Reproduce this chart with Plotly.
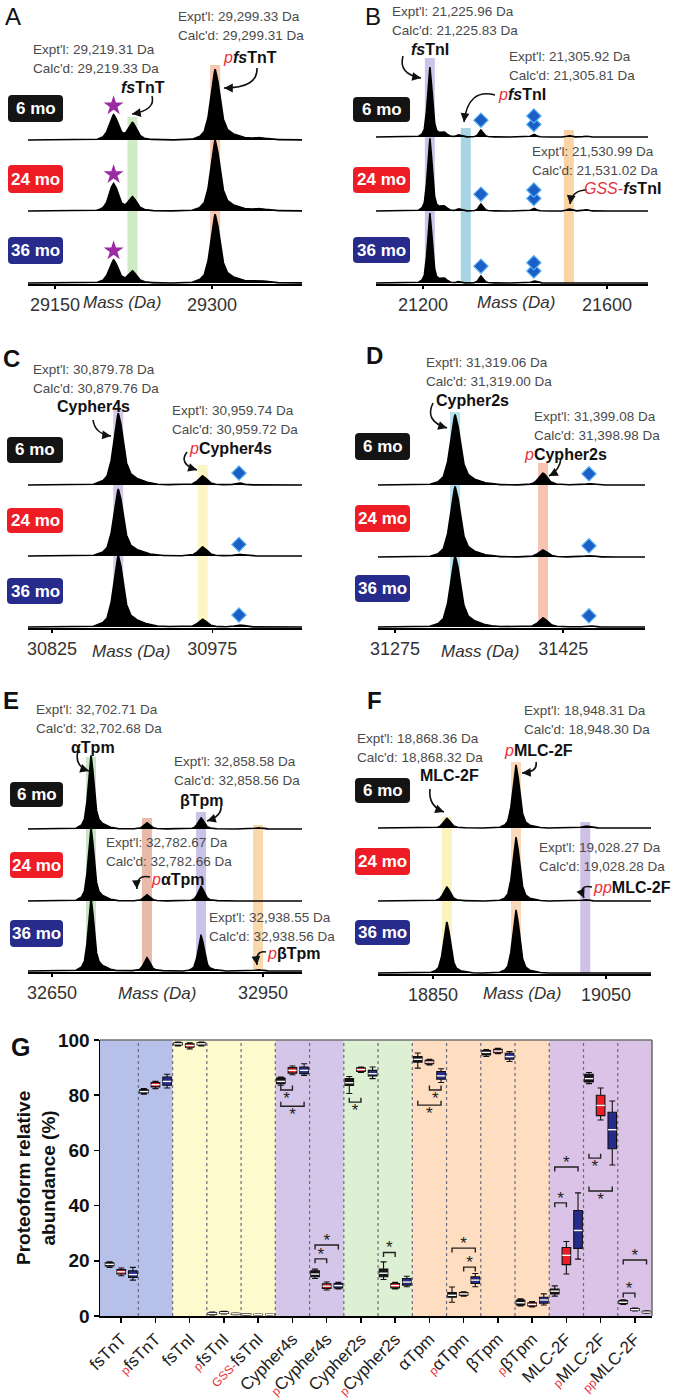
import numpy as np
import plotly.graph_objects as go

W, H = 676, 1400
FONT = "Arial, Liberation Sans, sans-serif"
RED = "#E8303A"
GRAY_TXT = "#4A4A4A"

AGES = ["6 mo", "24 mo", "36 mo"]
AGE_COLORS = ["#141414", "#EE1D25", "#262B8C"]

# ---------------- spectra data (peak mass, width, intensity per age) ----------------
# Panel A  fsTnT
A_PEAK_MASS = [29206, 29224, 29303, 29312, 29345]
A_PEAK_WIDTH = [6.0, 5.5, 6.0, 16.0, 10.0]
A_INT_6MO = [36, 24, 97, 6, 3]
A_INT_24MO = [39, 19, 97, 6, 3]
A_INT_36MO = [33, 16, 94, 6, 3]
A_TICKS = [29150, 29300]
A_PROTEO = ["fsTnT", "pfsTnT"]
A_PROTEO_MASS = [29224, 29303]
A_EXPT = ["29,219.31", "29,299.33"]
A_CALC = ["29,219.33", "29,299.31"]
A_STAR_MASS = [29206]

# Panel B  fsTnI
B_PEAK_MASS = [21215, 21245, 21278, 21326, 21441, 21517, 21554]
B_PEAK_WIDTH = [7.0, 10.0, 6.0, 6.5, 6.5, 6.0, 6.0]
B_INT_6MO = [100, 6, 3, 10, 4, 2, 1.5]
B_INT_24MO = [104, 6, 3, 10, 4, 3, 2]
B_INT_36MO = [100, 6, 2, 10, 3, 1, 1]
B_TICKS = [21200, 21600]
B_PROTEO = ["fsTnI", "pfsTnI", "GSS-fsTnI"]
B_PROTEO_MASS = [21215, 21293, 21517]
B_EXPT = ["21,225.96", "21,305.92", "21,530.99"]
B_CALC = ["21,225.83", "21,305.81", "21,531.02"]
B_DIAMOND_MASS = [21326, 21441]
B_DIAMOND_COUNT = [1, 2]

# Panel C  Cypher4s
C_PEAK_MASS = [30887, 30895, 30966, 31000]
C_PEAK_WIDTH = [6.0, 18.0, 5.5, 5.0]
C_INT_6MO = [97, 7, 13, 3]
C_INT_24MO = [90, 7, 13, 2.5]
C_INT_36MO = [96, 8, 11, 3]
C_TICKS = [30825, 30975]
C_PROTEO = ["Cypher4s", "pCypher4s"]
C_PROTEO_MASS = [30887, 30966]
C_EXPT = ["30,879.78", "30,959.74"]
C_CALC = ["30,879.76", "30,959.72"]
C_DIAMOND_MASS = [31000]
C_DIAMOND_COUNT = [1]

# Panel D  Cypher2s
D_PEAK_MASS = [31328.6, 31336, 31407, 31448]
D_PEAK_WIDTH = [6.0, 16.0, 5.5, 5.0]
D_INT_6MO = [96, 6, 17, 2]
D_INT_24MO = [96, 6, 10, 2]
D_INT_36MO = [96, 7, 13, 2]
D_TICKS = [31275, 31425]
D_PROTEO = ["Cypher2s", "pCypher2s"]
D_PROTEO_MASS = [31328.6, 31407]
D_EXPT = ["31,319.06", "31,399.08"]
D_CALC = ["31,319.00", "31,398.98"]
D_DIAMOND_MASS = [31448]
D_DIAMOND_COUNT = [1]

# Panel E  Tpm
E_PEAK_MASS = [32705.5, 32712, 32785, 32862, 32943]
E_PEAK_WIDTH = [5.5, 18.0, 6.0, 6.0, 6.0]
E_INT_6MO = [101, 5, 9, 16, 2]
E_INT_24MO = [101, 5, 9, 21, 1]
E_INT_36MO = [100, 5, 19, 51, 2]
E_TICKS = [32650, 32950]
E_PROTEO = ["aTpm", "paTpm", "bTpm", "pbTpm"]
E_PROTEO_MASS = [32705.5, 32785, 32862, 32943]
E_EXPT = ["32,702.71", "32,782.67", "32,858.58", "32,938.55"]
E_CALC = ["32,702.68", "32,782.66", "32,858.56", "32,938.56"]

# Panel F  MLC-2F
F_PEAK_MASS = [18866, 18946, 19026]
F_PEAK_WIDTH = [5.5, 5.5, 5.0]
F_INT_6MO = [14, 90, 3]
F_INT_24MO = [20, 91, 2]
F_INT_36MO = [73, 90, 1]
F_TICKS = [18850, 19050]
F_PROTEO = ["MLC-2F", "pMLC-2F", "ppMLC-2F"]
F_PROTEO_MASS = [18866, 18946, 19026]
F_EXPT = ["18,868.36", "18,948.31", "19,028.27"]
F_CALC = ["18,868.32", "18,948.30", "19,028.28"]

# ---------------- panel G data ----------------
CAT_BASE = ["fsTnT", "fsTnT", "fsTnI", "fsTnI", "fsTnI", "Cypher4s", "Cypher4s", "Cypher2s",
            "Cypher2s", "αTpm", "αTpm", "βTpm", "βTpm", "MLC-2F", "MLC-2F", "MLC-2F"]
CAT_PREFIX = ["", "p", "", "p", "GSS-", "", "p", "", "p", "", "p", "", "p", "", "p", "pp"]

MED_6MO = [18.7, 81.3, 98.6, 0.9, 0.6, 85.0, 15.2, 84.5, 15.5, 93.0, 7.5, 95.5, 4.8, 9.0, 86.0, 5.0]
Q1_6MO = [18.1, 80.8, 98.2, 0.6, 0.4, 84.2, 14.2, 83.5, 14.2, 92.0, 6.8, 94.6, 4.0, 8.0, 84.8, 4.5]
Q3_6MO = [19.3, 82.0, 99.0, 1.2, 0.8, 86.2, 16.4, 86.0, 17.0, 94.0, 8.5, 96.2, 5.8, 9.8, 87.6, 5.6]
LO_6MO = [17.6, 80.4, 97.8, 0.4, 0.3, 83.6, 13.6, 80.6, 13.2, 89.8, 5.0, 94.0, 3.6, 7.2, 84.2, 4.2]
HI_6MO = [19.6, 82.4, 99.3, 1.4, 0.9, 86.6, 17.0, 86.8, 19.6, 95.3, 10.5, 96.5, 6.2, 10.9, 88.2, 5.9]

MED_24MO = [16.0, 83.8, 98.0, 1.2, 0.5, 89.0, 10.8, 89.3, 11.0, 92.0, 8.0, 96.0, 4.2, 22.0, 76.3, 2.3]
Q1_24MO = [15.2, 83.0, 97.4, 0.9, 0.35, 88.0, 10.0, 88.6, 10.2, 91.4, 7.5, 95.4, 3.6, 18.6, 72.6, 2.0]
Q3_24MO = [16.8, 84.6, 98.6, 1.5, 0.65, 90.0, 11.7, 89.9, 11.8, 92.6, 8.5, 96.6, 4.8, 24.8, 80.0, 2.7]
LO_24MO = [14.6, 82.4, 96.8, 0.7, 0.3, 87.4, 9.4, 88.2, 9.8, 91.0, 7.2, 95.0, 3.3, 15.2, 71.0, 1.8]
HI_24MO = [17.4, 85.0, 99.0, 1.7, 0.7, 90.6, 12.3, 90.2, 12.2, 93.0, 8.8, 97.0, 5.2, 27.0, 82.6, 2.9]

MED_36MO = [15.0, 85.0, 98.6, 0.8, 0.6, 89.0, 11.0, 87.8, 12.3, 87.0, 13.0, 94.0, 5.8, 31.0, 67.5, 1.4]
Q1_36MO = [14.0, 83.6, 98.2, 0.6, 0.45, 87.8, 10.2, 87.0, 11.2, 85.8, 11.8, 93.0, 4.6, 24.5, 60.6, 1.2]
Q3_36MO = [16.4, 86.6, 99.0, 1.0, 0.75, 90.2, 11.8, 89.0, 13.6, 88.6, 14.2, 95.2, 6.8, 38.2, 73.8, 1.7]
LO_36MO = [13.0, 82.6, 97.8, 0.5, 0.4, 87.2, 9.8, 86.0, 10.6, 84.6, 10.6, 92.2, 4.0, 20.6, 54.7, 1.0]
HI_36MO = [17.6, 87.6, 99.3, 1.1, 0.8, 91.4, 12.2, 90.2, 14.4, 89.6, 15.4, 95.8, 8.0, 44.6, 77.9, 1.9]

# significance brackets: category, age a, age b, y level, direction (+1 star above, -1 star below)
SIG_CAT = [5, 5, 6, 6, 7, 8, 9, 9, 10, 10, 13, 13, 14, 14, 15, 15]
SIG_A = [0, 0, 0, 0, 0, 0, 1, 0, 1, 0, 0, 0, 0, 0, 0, 0]
SIG_B = [1, 2, 1, 2, 1, 1, 2, 2, 2, 2, 1, 2, 1, 2, 1, 2]
SIG_Y = [81.9, 76.0, 20.7, 25.7, 77.5, 23.0, 81.9, 76.4, 17.7, 24.6, 41.0, 54.0, 57.2, 45.3, 8.3, 20.3]
SIG_DIR = [-1, -1, 1, 1, -1, 1, -1, -1, 1, 1, 1, 1, -1, -1, 1, 1]

# ---------------- styles ----------------
PEAK_DX = [-4.0, -2.6, -1.8, -1.2, -0.7, -0.35, 0.0, 0.35, 0.7, 1.2, 1.8, 2.6, 4.0, 6.0]
PEAK_Y = [0.0, 0.03, 0.09, 0.26, 0.6, 0.88, 1.0, 0.88, 0.62, 0.28, 0.11, 0.05, 0.02, 0.0]
K = 0.7          # px per intensity unit
DOM_H = 80.0     # px height of each spectrum domain
R0 = 1.5


def px(x):
    return x / W


def py(y):
    return 1 - y / H


def red(s, italic=True, size=None):
    st = f"color:{RED}" + (f";font-size:{size}px" if size else "")
    inner = f"<span style='{st}'>{s}</span>"
    return f"<i>{inner}</i>" if italic else inner


LBL = {
    "fsTnT": "<b><i>fs</i>TnT</b>",
    "pfsTnT": red("p") + "<b><i>fs</i>TnT</b>",
    "fsTnI": "<b><i>fs</i>TnI</b>",
    "pfsTnI": red("p") + "<b><i>fs</i>TnI</b>",
    "GSS-fsTnI": red("GSS-") + "<b><i>fs</i>TnI</b>",
    "Cypher4s": "<b>Cypher4s</b>",
    "pCypher4s": red("p") + "<b>Cypher4s</b>",
    "Cypher2s": "<b>Cypher2s</b>",
    "pCypher2s": red("p") + "<b>Cypher2s</b>",
    "aTpm": "<b>αTpm</b>",
    "paTpm": red("p") + "<b>αTpm</b>",
    "bTpm": "<b>βTpm</b>",
    "pbTpm": red("p") + "<b>βTpm</b>",
    "MLC-2F": "<b>MLC-2F</b>",
    "pMLC-2F": red("p") + "<b>MLC-2F</b>",
    "ppMLC-2F": red("pp") + "<b>MLC-2F</b>",
}

PANELS = [
    dict(letter="A", lbold=False, lpos=(13, 16), mass=A_PEAK_MASS, width=A_PEAK_WIDTH,
         ints=[A_INT_6MO, A_INT_24MO, A_INT_36MO], ticks=A_TICKS, xpx=(28, 302),
         xrange=(29124.2, 29386.0), base=(140, 211, 283),
         proteo=A_PROTEO, pmass=A_PROTEO_MASS, band_top=[117, 65], band_col=["#CFEBC3", "#F8C7B0"],
         expt=A_EXPT, calc=A_CALC, epos=[(32, 50), (177, 17)], npos=[(143, 88), (250, 58)],
         nanchor=["center", "center"],
         arrows=[((152, 96), (156, 110), (132, 114)), ((257, 68), (258, 88), (224, 88))],
         boxes=[(8, 95, 63, 122), (8, 165, 63, 193), (8, 237, 63, 264)], mass_lbl=(122, 302),
         stars=A_STAR_MASS, diamonds=[], dcount=[]),
    dict(letter="B", lbold=False, lpos=(373, 16), mass=B_PEAK_MASS, width=B_PEAK_WIDTH,
         ints=[B_INT_6MO, B_INT_24MO, B_INT_36MO], ticks=B_TICKS, xpx=(376, 648),
         xrange=(21098.0, 21689.0), base=(137, 211, 283),
         proteo=B_PROTEO, pmass=B_PROTEO_MASS, band_top=[58, 128, 130],
         band_col=["#C8C6E8", "#A8D5E6", "#FBD4A6"],
         expt=B_EXPT, calc=B_CALC, epos=[(391, 12), (508, 57), (531, 151)],
         npos=[(430, 50), (522, 94), (662, 188)], nanchor=["center", "center", "right"],
         arrows=[((403, 56), (398, 74), (421, 78)), ((495, 95), (468, 88), (464, 122)),
                 ((587, 190), (572, 190), (570, 204))],
         boxes=[(353, 97, 410, 122), (353, 167, 410, 193), (353, 237, 410, 263)], mass_lbl=(516, 302),
         stars=[], diamonds=B_DIAMOND_MASS, dcount=B_DIAMOND_COUNT),
    dict(letter="C", lbold=True, lpos=(11, 358), mass=C_PEAK_MASS, width=C_PEAK_WIDTH,
         ints=[C_INT_6MO, C_INT_24MO, C_INT_36MO], ticks=C_TICKS, xpx=(28, 302),
         xrange=(30802.5, 31059.0), base=(485, 556, 627),
         proteo=C_PROTEO, pmass=C_PROTEO_MASS, band_top=[410, 465], band_col=["#D5C9E9", "#FBF6C4"],
         expt=C_EXPT, calc=C_CALC, epos=[(32, 370), (171, 410)], npos=[(94, 406), (230, 448)],
         nanchor=["center", "center"],
         arrows=[((93, 420), (95, 434), (111, 436)), ((187, 452), (178, 464), (197, 470))],
         boxes=[(7, 437, 63, 463), (7, 508, 63, 533), (7, 578, 63, 604)], mass_lbl=(131, 651),
         stars=[], diamonds=C_DIAMOND_MASS, dcount=C_DIAMOND_COUNT),
    dict(letter="D", lbold=True, lpos=(374, 355), mass=D_PEAK_MASS, width=D_PEAK_WIDTH,
         ints=[D_INT_6MO, D_INT_24MO, D_INT_36MO], ticks=D_TICKS, xpx=(378, 645),
         xrange=(31259.8, 31498.0), base=(485, 557, 627),
         proteo=D_PROTEO, pmass=D_PROTEO_MASS, band_top=[412, 463], band_col=["#B4E1F0", "#F7C4B1"],
         expt=D_EXPT, calc=D_CALC, epos=[(425, 362), (533, 417)], npos=[(472, 400), (565, 455)],
         nanchor=["center", "center"],
         arrows=[((433, 403), (424, 421), (447, 428)), ((561, 458), (560, 470), (549, 476))],
         boxes=[(355, 433, 410, 460), (355, 505, 410, 532), (355, 575, 410, 602)], mass_lbl=(480, 651),
         stars=[], diamonds=D_DIAMOND_MASS, dcount=D_DIAMOND_COUNT),
    dict(letter="E", lbold=True, lpos=(11, 700), mass=E_PEAK_MASS, width=E_PEAK_WIDTH,
         ints=[E_INT_6MO, E_INT_24MO, E_INT_36MO], ticks=E_TICKS, xpx=(28, 302),
         xrange=(32615.9, 33005.5), base=(829, 901, 971),
         proteo=E_PROTEO, pmass=E_PROTEO_MASS, band_top=[757, 818, 812, 825],
         band_col=["#C6E6C4", "#E9B9A9", "#C9C3E7", "#FAD8AE"],
         expt=E_EXPT, calc=E_CALC, epos=[(35, 709), (105, 842), (173, 761), (208, 917)],
         npos=[(93, 747), (178, 879), (202, 800), (293, 953)],
         nanchor=["center", "center", "center", "center"],
         arrows=[((78, 751), (74, 766), (89, 771)), ((150, 877), (136, 874), (137, 889)),
                 ((221, 806), (222, 816), (207, 821)), ((266, 952), (255, 950), (257, 965))],
         boxes=[(10, 782, 63, 807), (10, 852, 63, 878), (10, 920, 63, 947)], mass_lbl=(157, 993),
         stars=[], diamonds=[], dcount=[]),
    dict(letter="F", lbold=True, lpos=(374, 700), mass=F_PEAK_MASS, width=F_PEAK_WIDTH,
         ints=[F_INT_6MO, F_INT_24MO, F_INT_36MO], ticks=F_TICKS, xpx=(378, 651),
         xrange=(18786.4, 19102.0), base=(828, 901, 973),
         proteo=F_PROTEO, pmass=F_PROTEO_MASS, band_top=[817, 762, 822],
         band_col=["#FBF3BE", "#F9D8BB", "#CFC0E6"],
         expt=F_EXPT, calc=F_CALC, epos=[(356, 738), (523, 710), (538, 847)],
         npos=[(449, 775), (538, 750), (672, 887)], nanchor=["center", "center", "right"],
         arrows=[((430, 789), (428, 806), (444, 812)), ((536, 762), (538, 772), (522, 773)),
                 ((592, 887), (578, 884), (584, 898))],
         boxes=[(355, 778, 410, 803), (355, 848, 410, 875), (355, 920, 410, 945)], mass_lbl=(522, 993),
         stars=[], diamonds=[], dcount=[]),
]

fig = go.Figure()
layout = {}
shapes = []
annotations = []


def txt(s, x, y, size=13.5, color=GRAY_TXT, xanchor="left", **kw):
    annotations.append(dict(text=s, x=px(x), y=py(y), xref="paper", yref="paper", showarrow=False,
                            xanchor=xanchor, yanchor="middle", borderpad=0,
                            font=dict(size=size, color=color, family=FONT), **kw))


def rrect(x0, y0, x1, y1, r=4):
    return (f"M {px(x0 + r)},{py(y0)} L {px(x1 - r)},{py(y0)} Q {px(x1)},{py(y0)} {px(x1)},{py(y0 + r)} "
            f"L {px(x1)},{py(y1 - r)} Q {px(x1)},{py(y1)} {px(x1 - r)},{py(y1)} "
            f"L {px(x0 + r)},{py(y1)} Q {px(x0)},{py(y1)} {px(x0)},{py(y1 - r)} "
            f"L {px(x0)},{py(y0 + r)} Q {px(x0)},{py(y0)} {px(x0 + r)},{py(y0)} Z")


def profile(x, mass, width, ints):
    y = np.zeros_like(x)
    for m, w, h in zip(mass, width, ints):
        y += h * np.interp((x - m) / w, PEAK_DX, PEAK_Y, left=0.0, right=0.0)
    return y


for p, P in enumerate(PANELS):
    xname = "x" if p == 0 else f"x{p + 1}"
    xkey = "xaxis" if p == 0 else f"xaxis{p + 1}"
    x0, x1 = P["xpx"]
    xr = P["xrange"]
    da_per_px = (xr[1] - xr[0]) / (x1 - x0)
    xs = np.linspace(xr[0], xr[1], 3000)
    for a in range(3):
        n = 3 * p + a + 1
        yname = "y" if n == 1 else f"y{n}"
        ykey = "yaxis" if n == 1 else f"yaxis{n}"
        b = P["base"][a]
        layout[ykey] = dict(domain=[py(b + R0 * K), py(b + R0 * K - DOM_H)], anchor=xname,
                            range=[-R0, -R0 + DOM_H / K], visible=False, fixedrange=True)
        ys = profile(xs, P["mass"], P["width"], P["ints"][a])
        fig.add_trace(go.Scatter(x=xs, y=ys, mode="lines", fill="tozeroy", fillcolor="#000000",
                                 line=dict(color="#000000", width=1.6), xaxis=xname, yaxis=yname,
                                 hoverinfo="skip"))
        ints = P["ints"][a]
        if P["stars"]:
            sy = [ints[P["mass"].index(m)] + 13 for m in P["stars"]]
            fig.add_trace(go.Scatter(x=P["stars"], y=sy, mode="markers", xaxis=xname, yaxis=yname,
                                     marker=dict(symbol="star", size=15, color="#9B2BA3"),
                                     cliponaxis=False, hoverinfo="skip"))
        dx, dy = [], []
        for m, c in zip(P["diamonds"], P["dcount"]):
            hgt = ints[P["mass"].index(m)]
            for j in range(c):
                dx.append(m)
                dy.append(hgt + 14 + 12 * j)
        if dx:
            fig.add_trace(go.Scatter(x=dx, y=dy, mode="markers", xaxis=xname, yaxis=yname,
                                     marker=dict(symbol="diamond", size=11, color="#1B5FC6",
                                                 line=dict(color="#58B0F2", width=1.2)),
                                     cliponaxis=False, hoverinfo="skip"))
    bottom_y = "y" if 3 * p + 3 == 1 else f"y{3 * p + 3}"
    layout[xkey] = dict(domain=[px(x0), px(x1)], anchor=bottom_y, range=list(xr),
                        showline=True, linecolor="#000000", linewidth=2, ticks="outside", ticklen=3,
                        tickwidth=1.5, tickcolor="#000000", tickvals=P["ticks"],
                        ticktext=[str(t) for t in P["ticks"]],
                        tickfont=dict(size=18, color="#333333", family=FONT), showgrid=False,
                        zeroline=False, fixedrange=True, automargin=False)
    # bands
    hw = 5 * da_per_px
    for m, top, col in zip(P["pmass"], P["band_top"], P["band_col"]):
        shapes.append(dict(type="rect", xref=xname, yref="paper", x0=m - hw, x1=m + hw,
                           y0=py(P["base"][2]), y1=py(top), fillcolor=col, line=dict(width=0),
                           layer="below"))
    # age labels
    for a in range(3):
        bx0, by0, bx1, by1 = P["boxes"][a]
        shapes.append(dict(type="path", xref="paper", yref="paper", path=rrect(bx0, by0, bx1, by1, 4),
                           fillcolor=AGE_COLORS[a], line=dict(width=0)))
        txt(f"<b>{AGES[a]}</b>", (bx0 + bx1) / 2, (by0 + by1) / 2, size=17, color="#FFFFFF",
            xanchor="center")
    # panel letter
    lt = f"<b>{P['letter']}</b>" if P["lbold"] else P["letter"]
    txt(lt, P["lpos"][0], P["lpos"][1], size=24, color="#111111", xanchor="center")
    # mass labels
    for (ex, ey), e, c in zip(P["epos"], P["expt"], P["calc"]):
        txt(f"Expt'l: {e} Da", ex, ey)
        txt(f"Calc'd: {c} Da", ex, ey + 19)
    for (nx, ny), name, anc in zip(P["npos"], P["proteo"], P["nanchor"]):
        txt(LBL[name], nx, ny, size=16, color="#111111", xanchor=anc)
    for (s, c, e) in P["arrows"]:
        shapes.append(dict(type="path", xref="paper", yref="paper",
                           path=f"M {px(s[0])},{py(s[1])} Q {px(c[0])},{py(c[1])} {px(e[0])},{py(e[1])}",
                           line=dict(color="#111111", width=1.6)))
        vx, vy = c[0] - e[0], c[1] - e[1]
        L = (vx ** 2 + vy ** 2) ** 0.5
        annotations.append(dict(text="", x=px(e[0]), y=py(e[1]), xref="paper", yref="paper",
                                showarrow=True, arrowhead=2, arrowsize=1.1, arrowwidth=1.6,
                                arrowcolor="#111111", ax=vx / L * 7, ay=vy / L * 7, standoff=0))
    txt("<i>Mass (Da)</i>", P["mass_lbl"][0], P["mass_lbl"][1], size=17, color="#333333",
        xanchor="center")

# ---------------- panel G ----------------
GX0, GX1, GY0, GY1 = 100, 652, 1040, 1316
XMIN = -0.62
layout["xaxis7"] = dict(domain=[px(GX0), px(GX1)], anchor="y19", range=[XMIN, 15.5],
                        tickvals=list(range(16)),
                        ticktext=[(red(pf, italic=False, size=12) if pf else "") + b
                                  for pf, b in zip(CAT_PREFIX, CAT_BASE)],
                        tickangle=-45, ticks="outside", ticklen=5, tickwidth=1.5, tickcolor="#000000",
                        showline=True, linecolor="#000000", linewidth=1.5,
                        tickfont=dict(size=17, color="#222222", family=FONT), showgrid=False,
                        zeroline=False, fixedrange=True, automargin=False)
layout["yaxis19"] = dict(domain=[py(GY1), py(GY0)], anchor="x7", range=[0, 100],
                         tickvals=[0, 20, 40, 60, 80, 100], ticks="outside", ticklen=5, tickwidth=1.5,
                         tickcolor="#000000", showline=True, linecolor="#000000", linewidth=1.5,
                         tickfont=dict(size=19, color="#111111", family=FONT, weight="bold"),
                         showgrid=False, zeroline=False, fixedrange=True, automargin=False)

GROUPS = [(0, 1, "#B6C0E8"), (2, 4, "#FFF9CE"), (5, 6, "#D4C6E8"), (7, 8, "#DDF0D4"),
          (9, 12, "#FEDDC0"), (13, 15, "#DBC3E7")]
for g0, g1, col in GROUPS:
    shapes.append(dict(type="rect", xref="x7", yref="y19", x0=(g0 - 0.5) if g0 else XMIN,
                       x1=g1 + 0.5, y0=0, y1=100, fillcolor=col, line=dict(width=0), layer="below"))
for i in range(15):
    shapes.append(dict(type="line", xref="x7", yref="y19", x0=i + 0.5, x1=i + 0.5, y0=0, y1=100,
                       line=dict(color="#6A6A7A", width=1.2, dash="dot"), layer="below"))
shapes.append(dict(type="line", xref="x7 domain", yref="y19 domain", x0=0, x1=1, y0=1, y1=1,
                   line=dict(color="#707070", width=1.6)))
shapes.append(dict(type="line", xref="x7 domain", yref="y19 domain", x0=1, x1=1, y0=0, y1=1,
                   line=dict(color="#707070", width=1.6)))

OFFS = [-0.34, 0.0, 0.34]
BOXDATA = [(Q1_6MO, MED_6MO, Q3_6MO, LO_6MO, HI_6MO),
           (Q1_24MO, MED_24MO, Q3_24MO, LO_24MO, HI_24MO),
           (Q1_36MO, MED_36MO, Q3_36MO, LO_36MO, HI_36MO)]
for a in range(3):
    q1, med, q3, lo, hi = BOXDATA[a]
    xs = [i + OFFS[a] for i in range(16)]
    fig.add_trace(go.Box(x=xs, q1=q1, median=med, q3=q3, lowerfence=lo, upperfence=hi,
                         xaxis="x7", yaxis="y19", width=0.25, whiskerwidth=0.7, boxpoints=False,
                         fillcolor=AGE_COLORS[a], line=dict(color="#111111", width=1.1),
                         hoverinfo="skip"))
    fig.add_trace(go.Scatter(x=xs, y=med, mode="markers", xaxis="x7", yaxis="y19",
                             marker=dict(symbol="line-ew", size=6, line=dict(color="#FFFFFF", width=1.4)),
                             hoverinfo="skip"))

for c, a, b, yv, d in zip(SIG_CAT, SIG_A, SIG_B, SIG_Y, SIG_DIR):
    xa, xb = c + OFFS[a], c + OFFS[b]
    fig.add_trace(go.Scatter(x=[xa, xa, xb, xb], y=[yv - d * 1.6, yv, yv, yv - d * 1.6], mode="lines",
                             xaxis="x7", yaxis="y19", line=dict(color="#222222", width=1.4),
                             hoverinfo="skip"))
    fig.add_trace(go.Scatter(x=[(xa + xb) / 2], y=[yv + d * 2.4 - 1.2], mode="text", text=["*"],
                             textfont=dict(size=17, color="#222222", family=FONT), xaxis="x7",
                             yaxis="y19", hoverinfo="skip", cliponaxis=False))

txt("<b>G</b>", 20, 1047, size=25, color="#111111", xanchor="center")
annotations.append(dict(text="<b>Proteoform relative<br>abundance (%)</b>", x=px(36), y=py(1178),
                        xref="paper", yref="paper", showarrow=False, textangle=-90, xanchor="center",
                        yanchor="middle", font=dict(size=19, color="#111111", family=FONT)))

fig.update_layout(template="none", width=W, height=H, margin=dict(l=0, r=0, t=0, b=0),
                  paper_bgcolor="#FFFFFF", plot_bgcolor="rgba(0,0,0,0)", showlegend=False,
                  boxmode="overlay", font=dict(family=FONT), shapes=shapes, annotations=annotations,
                  **layout)
fig.write_html("out.html", config={"displayModeBar": False, "staticPlot": True},
               post_script="document.body.style.margin='0px';document.body.style.overflow='hidden';")
